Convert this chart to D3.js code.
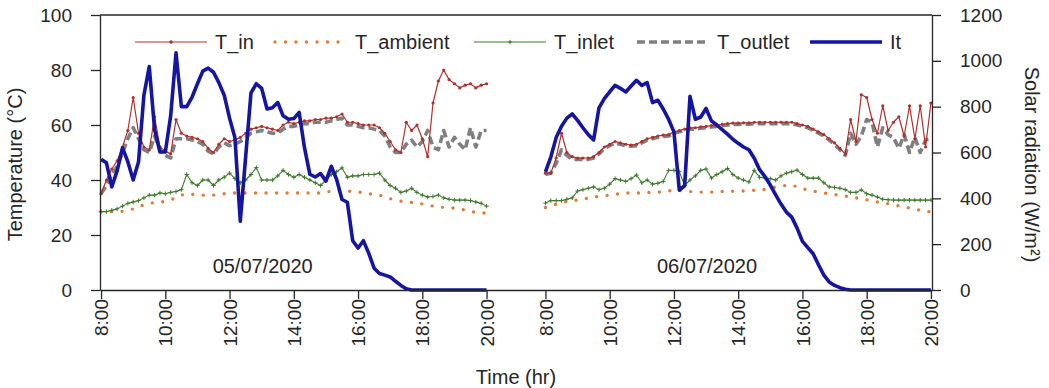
<!DOCTYPE html>
<html>
<head>
<meta charset="utf-8">
<script src="https://cdn.jsdelivr.net/npm/d3@7"></script>
<style>
  body { margin: 0; background: #fff; }
  text { font-family: Arial, "Liberation Sans", sans-serif; fill: #262626; }
  .axis path, .axis line { stroke: #262626; stroke-width: 1.3; }
</style>
</head>
<body>
<script>
// tick labels and dates
var hourTicks = [8, 10, 12, 14, 16, 18, 20];
var hourLabels = ["8:00", "10:00", "12:00", "14:00", "16:00", "18:00", "20:00"];
var dayLabels = ["05/07/2020", "06/07/2020"];
var tempTicks = [0, 20, 40, 60, 80, 100];
var solarTicks = [0, 200, 400, 600, 800, 1000, 1200];

// readings every 10 min, 8:00 -> 20:00 (73 per day)
// 05/07/2020
var tIn1 = [35, 40, 44, 47, 52, 58, 70, 57, 52, 51, 63, 52,
            50.5, 49.5, 62, 57, 56, 55.5, 55, 54, 51.5, 50, 53, 55,
            54, 54.5, 55.5, 57, 58.5, 59, 59.5, 59, 58.5, 58, 60, 61,
            60.5, 61, 61.5, 61.5, 62, 62, 62.5, 62.5, 63, 64, 61, 61,
            60.5, 60, 60, 60, 59, 57, 54, 51, 50, 61, 58, 60,
            55, 48.5, 68, 76, 80, 76.5, 75, 73.5, 74.5, 75, 73.5, 74.5, 75];
var tAmb1 = [28.5, 28.5, 28.5, 28.5, 28.6, 29, 29.5, 30.2, 31, 31.5, 31.8, 32,
             32.2, 32.8, 33.5, 34.5, 35, 34.8, 34.5, 34.5, 34.5, 34.5, 34.7, 35,
             35.2, 35.3, 35.3, 35.3, 35.3, 35.3, 35.3, 35.3, 35.3, 35.3, 35.3, 35.3,
             35.3, 35.3, 35.3, 35.3, 35.3, 35.3, 35.5, 36, 36.4, 36.2, 36, 35.8,
             35.6, 35.5, 35, 34.7, 34.5, 34, 33.2, 32.7, 32.3, 32, 31.8, 31.6,
             31.3, 31, 30.5, 30.2, 30, 29.9, 29.8, 29.5, 29, 28.5, 28.3, 28, 28];
var tInlet1 = [28.5, 28.5, 29, 29.5, 30.5, 31.5, 32, 32.5, 33.5, 34.5, 34.5, 35.3,
               35, 35.5, 35.8, 36.5, 42, 39, 38, 40, 40, 38, 40, 41,
               42.5, 40.5, 39, 40, 42, 44.5, 40, 40, 40, 41.5, 43.5, 42,
               41, 42, 41, 40, 39, 38, 40, 42, 43, 44.4, 41, 41.5,
               41.5, 42, 42, 42, 42.5, 40, 38, 37, 35.5, 36, 37, 35.5,
               34.5, 33.8, 34, 34.5, 33.5, 33, 32.7, 32.7, 32.7, 32.5, 32, 31.5, 30.5];
var tOut1 = [35, 38, 42, 45, 50, 55, 59, 55, 51, 50, 56, 51,
             49, 48, 55, 55, 55, 54.5, 54, 53, 50.5, 49.5, 52, 53.5,
             52.5, 53, 54, 55.5, 57, 57.5, 58, 57.5, 57, 57, 58.5, 59.5,
             59.5, 60, 60.5, 60.5, 61, 61, 61, 61.5, 62, 62.5, 60, 60,
             59.5, 59, 59, 58.5, 58, 56, 52, 50, 50, 53, 54.5, 52,
             54, 58, 52, 51, 58, 52, 55.5, 53, 51, 59, 52, 58, 58];
var solar1 = [570, 555, 450, 520, 620, 560, 480, 560, 850, 975, 700, 602,
              602, 760, 1035, 800, 800, 842, 900, 955, 968, 950, 905, 850,
              750, 665, 300, 580, 860, 900, 880, 790, 795, 818, 760, 745,
              748, 775, 620, 505, 493, 508, 475, 540, 482, 395, 383, 215,
              183, 215, 160, 95, 72, 65, 57, 38, 20, 5, 0, 0,
              0, 0, 0, 0, 0, 0, 0, 0, 0, 0, 0, 0, 0];

// 06/07/2020
var tIn2 = [42.5, 42.5, 48, 57, 50, 48.5, 48, 48, 48, 48.5, 50, 52,
            53, 54, 53.5, 53, 52.7, 53, 54, 55, 55.5, 56, 56.3, 56.5,
            57.5, 58, 58.5, 59, 59, 59.3, 59.5, 59.8, 60, 60.2, 60.5, 60.7,
            60.7, 60.8, 60.8, 61, 61, 61, 61, 61, 61, 61, 61, 60.5,
            60, 59.5, 58.5, 57.5, 56.5, 55, 53.5, 51.5, 49.5, 62, 54, 71,
            70, 62, 57, 67, 58, 61, 63, 56, 67, 55, 67, 52, 68];
var tAmb2 = [30, 30.5, 31.2, 31.8, 32.2, 32.5, 32.7, 33, 33.5, 33.8, 34, 34.3,
             34.5, 34.8, 35, 35.3, 35.3, 35.3, 35.3, 35.4, 35.5, 35.6, 35.8, 36,
             36.3, 36.2, 36, 35.8, 35.6, 35.6, 35.6, 35.6, 35.7, 35.8, 35.8, 35.9,
             36, 36, 36.2, 36.3, 36.4, 36.6, 37, 37.5, 37.8, 38, 38.2, 37.5,
             36.8, 36.4, 36, 35.6, 35.3, 35, 34.7, 34.5, 34.2, 33.8, 33.5, 33.2,
             32.8, 32.3, 32, 31.7, 31.4, 31, 30.6, 30.2, 29.8, 29.4, 29, 28.6, 28.4];
var tInlet2 = [31.6, 32.5, 32.5, 32.5, 33, 33.5, 36, 36.5, 37, 37.5, 36.5, 37,
               38.5, 40.5, 40, 39.5, 40.5, 41.8, 39, 40, 38.5, 38.8, 39.5, 43.5,
               43.5, 43, 38, 40, 41.5, 43.5, 44, 40.7, 42, 43, 44.2, 42,
               40.7, 40, 39.3, 43.5, 41, 40.7, 40.5, 40, 41.5, 42.5, 43, 43.6,
               42, 40.7, 40.7, 40.7, 39, 37.5, 37.3, 37, 36.5, 35.5, 35.5, 36.4,
               35, 34.5, 33.8, 33, 32.8, 32.7, 32.7, 32.7, 32.7, 32.7, 32.7, 32.7, 32.7];
var tOut2 = [42, 42.5, 46, 51, 49, 47.5, 47.5, 47.5, 47.5, 48, 49.5, 51.5,
             52.5, 53.5, 53, 52.5, 52.3, 52.5, 53.5, 54.5, 55, 55.5, 55.8, 56,
             57, 57.5, 58, 58.5, 58.5, 58.8, 59, 59.3, 59.5, 59.7, 60, 60.2,
             60.2, 60.3, 60.3, 60.5, 60.5, 60.5, 60.5, 60.5, 60.5, 60.5, 60.5, 60,
             59.5, 59, 58, 57, 56, 54.5, 53, 51, 49, 57, 53, 56,
             62, 61, 52, 59, 56.5, 55.5, 51.5, 56.5, 50, 55.5, 50, 54.5, 55.5];
var solar2 = [515, 580, 665, 715, 750, 768, 740, 708, 678, 655, 795, 835,
              865, 893, 880, 864, 890, 915, 893, 905, 818, 828, 790, 745,
              690, 436, 455, 845, 745, 755, 792, 738, 720, 700, 680, 658,
              640, 624, 612, 575, 525, 495, 458, 415, 375, 340, 318, 270,
              212, 185, 158, 110, 65, 35, 20, 10, 3, 0, 0, 0,
              0, 0, 0, 0, 0, 0, 0, 0, 0, 0, 0, 0, 0];

// set the dimensions and margins of the graph
var margin = {top: 15, right: 117, bottom: 98, left: 100},
    width = 1049 - margin.left - margin.right,
    height = 388 - margin.top - margin.bottom;

// each day is 73 slots of 10 min, with an empty stretch between the days
var stepsPerDay = 73, dayGap = 10;
function slot(day, i) { return day * (stepsPerDay + dayGap) + i; }
function hourSlot(day, h) { return slot(day, (h - 8) * 6); }

var x = d3.scaleLinear()
    .domain([-0.2, slot(1, stepsPerDay - 1) + 0.2])
    .range([0, width]);
var yT = d3.scaleLinear().domain([0, 100]).range([height, 0]);
var yS = d3.scaleLinear().domain([0, 1200]).range([height, 0]);

var svg = d3.select("body").append("svg")
    .attr("width", width + margin.left + margin.right)
    .attr("height", height + margin.top + margin.bottom);
var g = svg.append("g")
    .attr("transform", "translate(" + margin.left + "," + margin.top + ")");

var series = [
  {name: "T_in", days: [tIn1, tIn2], scale: yT, color: "#b0302c", width: 1.2, marker: "dot"},
  {name: "T_ambient", days: [tAmb1, tAmb2], scale: yT, color: "#e07b3a", width: 3.4, dash: "0,10.5", cap: "round"},
  {name: "T_inlet", days: [tInlet1, tInlet2], scale: yT, color: "#3d7a2b", width: 1.1, marker: "plus"},
  {name: "T_outlet", days: [tOut1, tOut2], scale: yT, color: "#7f7f7f", width: 3.6, dash: "8,4"},
  {name: "It", days: [solar1, solar2], scale: yS, color: "#1515a3", width: 3.6}
];
// drawing order (outlet under inlet temperature, radiation on top)
var drawOrder = ["T_ambient", "T_inlet", "T_outlet", "T_in", "It"];

drawOrder.forEach(function(name) {
  var s = series.find(function(d) { return d.name === name; });
  s.days.forEach(function(vals, day) {
    var line = d3.line()
        .x(function(d, i) { return x(slot(day, i)); })
        .y(function(d) { return s.scale(d); });
    g.append("path")
        .datum(vals)
        .attr("d", line)
        .attr("fill", "none")
        .attr("stroke", s.color)
        .attr("stroke-width", s.width)
        .attr("stroke-dasharray", s.dash || null)
        .attr("stroke-linecap", s.cap || "butt")
        .attr("stroke-linejoin", "round");

    if (s.marker === "dot") {
      g.selectAll(null).data(vals).enter().append("circle")
          .attr("cx", function(d, i) { return x(slot(day, i)); })
          .attr("cy", function(d) { return s.scale(d); })
          .attr("r", 1.6)
          .attr("fill", s.color);
    }
    if (s.marker === "plus") {
      g.selectAll(null).data(vals).enter().append("path")
          .attr("d", function(d, i) {
            var px = x(slot(day, i)), py = s.scale(d);
            return "M" + (px - 2.2) + "," + py + "h4.4M" + px + "," + (py - 2.2) + "v4.4";
          })
          .attr("stroke", s.color)
          .attr("stroke-width", 1);
    }
  });
});

// frame top line
g.append("line")
    .attr("x1", 0).attr("x2", width)
    .attr("y1", 0).attr("y2", 0)
    .attr("stroke", "#262626").attr("stroke-width", 1.3);

// add the x Axis
var xTicks = [];
[0, 1].forEach(function(day) {
  hourTicks.forEach(function(h, k) { xTicks.push({v: hourSlot(day, h), label: hourLabels[k]}); });
});
var xAxis = g.append("g")
    .attr("class", "axis")
    .attr("transform", "translate(0," + height + ")")
    .call(d3.axisBottom(x)
      .tickValues(xTicks.map(function(d) { return d.v; }))
      .tickFormat(function(v) { return xTicks.find(function(d) { return d.v === v; }).label; })
      .tickSize(9).tickSizeOuter(0));
xAxis.selectAll("text")
    .attr("transform", "rotate(-90)")
    .attr("x", -9)
    .attr("y", 0)
    .attr("dy", "0.35em")
    .style("text-anchor", "end")
    .style("font-size", "19px");

// add the y Axes
g.append("g")
    .attr("class", "axis")
    .call(d3.axisLeft(yT).tickValues(tempTicks).tickFormat(d3.format("d"))
      .tickSize(9).tickPadding(19).tickSizeOuter(0))
    .selectAll("text").style("font-size", "19px");
g.append("g")
    .attr("class", "axis")
    .attr("transform", "translate(" + width + ",0)")
    .call(d3.axisRight(yS).tickValues(solarTicks).tickFormat(d3.format("d"))
      .tickSize(9).tickPadding(19).tickSizeOuter(0))
    .selectAll("text").style("font-size", "19px");
svg.selectAll(".axis text").attr("fill", "#262626");
svg.selectAll(".axis .domain").attr("stroke", "#262626");

// axis titles
svg.append("text")
    .attr("transform", "translate(22," + (margin.top + height / 2 + 12) + ") rotate(-90)")
    .attr("text-anchor", "middle")
    .style("font-size", "20px")
    .text("Temperature (°C)");
svg.append("text")
    .attr("transform", "translate(1025," + (margin.top + height / 2 + 12) + ") rotate(90)")
    .attr("text-anchor", "middle")
    .style("font-size", "20px")
    .text("Solar radiation (W/m²)");
svg.append("text")
    .attr("x", margin.left + width / 2)
    .attr("y", 384)
    .attr("text-anchor", "middle")
    .style("font-size", "20px")
    .text("Time (hr)");

// date labels
dayLabels.forEach(function(lbl, day) {
  g.append("text")
      .attr("x", x(hourSlot(day, 13)) + 1)
      .attr("y", height - 17)
      .attr("text-anchor", "middle")
      .style("font-size", "20px")
      .text(lbl);
});

// legend
var legendX = [35, 175, 374, 537, 710];
var legend = g.append("g").attr("transform", "translate(0,27)");
series.forEach(function(s, k) {
  var lg = legend.append("g").attr("transform", "translate(" + legendX[k] + ",0)");
  lg.append("line")
      .attr("x1", 0).attr("x2", 72)
      .attr("stroke", s.color)
      .attr("stroke-width", s.width)
      .attr("stroke-dasharray", s.dash || null)
      .attr("stroke-linecap", s.cap || "butt");
  if (s.marker === "dot") {
    lg.append("circle").attr("cx", 36).attr("r", 1.8).attr("fill", s.color);
  }
  if (s.marker === "plus") {
    lg.append("path").attr("d", "M33.8,0h4.4M36,-2.2v4.4").attr("stroke", s.color).attr("stroke-width", 1);
  }
  lg.append("text")
      .attr("x", 80)
      .attr("dy", "0.36em")
      .style("font-size", "20px")
      .text(s.name);
});
</script>
</body>
</html>
